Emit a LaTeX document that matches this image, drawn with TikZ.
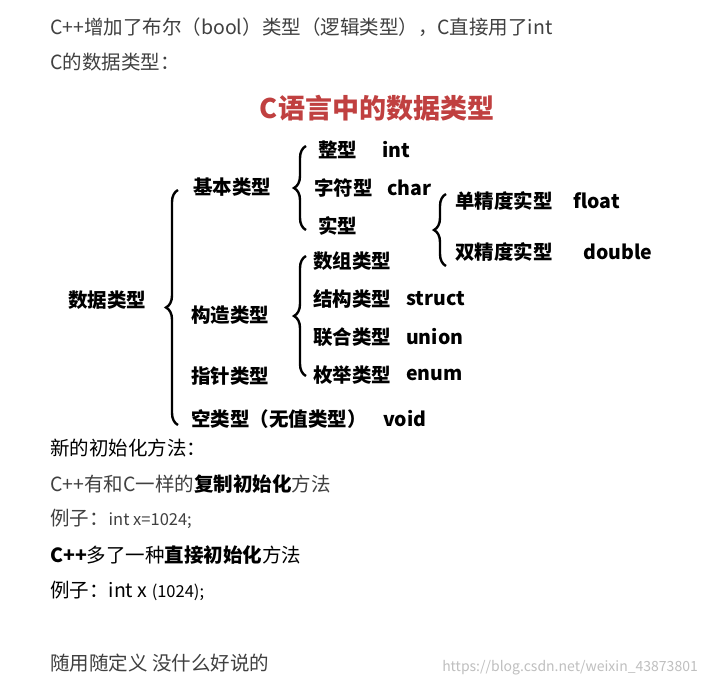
\documentclass[tikz,border=0pt]{standalone}
\usepackage{fontspec}
\setmainfont{Noto Sans CJK SC}
\usetikzlibrary{decorations.pathreplacing}
\definecolor{txtgray}{RGB}{64,64,64}
\definecolor{titlered}{RGB}{192,64,64}
\begin{document}
\begin{tikzpicture}[x=1pt, y=-1pt, font=\fontsize{19.5}{22}\selectfont]
	\tikzset{
		line/.style = {anchor=west, inner sep=0pt, text=txtgray},
		item/.style = {anchor=west, inner sep=0pt, font=\fontsize{19.5}{22}\selectfont\bfseries},
		curly/.style = {draw=black, line width=2.4pt, decorate, decoration={brace, amplitude=12pt}}
	}
	\useasboundingbox[fill=white] (0,0) rectangle (706,690);
	% texte au-dessus
	\node[line] (l1) at (50,27) {C++增加了布尔（bool）类型（逻辑类型），C直接用了int};
	\node[line] (l2) at (50,62) {C的数据类型：};
	% titre
	\node[inner sep=0pt, text=titlered, font=\fontsize{27}{30}\selectfont\bfseries] (titre) at (377,108) {C语言中的数据类型};
	% arbre des types
	\node[item] (data) at (68,300) {数据类型};
	\node[item] (base) at (193,187) {基本类型};
	\node[item] (cons) at (191,315) {构造类型};
	\node[item] (ptr) at (191,376) {指针类型};
	\node[item] (vide) at (191,419) {空类型（无值类型）};
	\node[item] (void) at (383,419) {void};
	\node[item] (ent) at (318,150) {整型};
	\node[item] (int) at (382,150) {int};
	\node[item] (car) at (314,188) {字符型};
	\node[item] (char) at (387,188) {char};
	\node[item] (reel) at (318,226) {实型};
	\node[item] (simple) at (455,201) {单精度实型};
	\node[item] (float) at (573,201) {float};
	\node[item] (dbl) at (455,252) {双精度实型};
	\node[item] (double) at (583,252) {double};
	\node[item] (tab) at (313,261) {数组类型};
	\node[item] (struc) at (313,299) {结构类型};
	\node[item] (struct) at (406,299) {struct};
	\node[item] (unio) at (313,337) {联合类型};
	\node[item] (union) at (406,337) {union};
	\node[item] (enu) at (313,375) {枚举类型};
	\node[item] (enum) at (406,375) {enum};
	\path[curly] (178,425) -- (178,190);
	\path[curly] (306,230) -- (306,146);
	\path[curly] (446,266) -- (446,194);
	\path[curly] (306,376) -- (306,256);
	% texte en dessous
	\node[line, text=black] (l3) at (50,448) {新的初始化方法：};
	\node[line] (l4) at (50,484) {C++有和C一样的\textcolor{black}{\bfseries 复制初始化}方法};
	\node[line] (l5) at (50,519) {例子：{\fontsize{16.5}{19}\selectfont int x=1024;}};
	\node[line, text=black] (l6) at (50,555) {{\bfseries C++}多了一种{\bfseries 直接初始化}方法};
	\node[line, text=black] (l7) at (50,591) {例子：int x {\fontsize{16.5}{19}\selectfont (1024);}};
	\node[line] (l8) at (50,663) {随用随定义 没什么好说的};
	\node[anchor=east, inner sep=0pt, text=black!25, font=\fontsize{14}{16}\selectfont] (wm) at (698,668) {https://blog.csdn.net/weixin\_43873801};
\end{tikzpicture}
\end{document}
